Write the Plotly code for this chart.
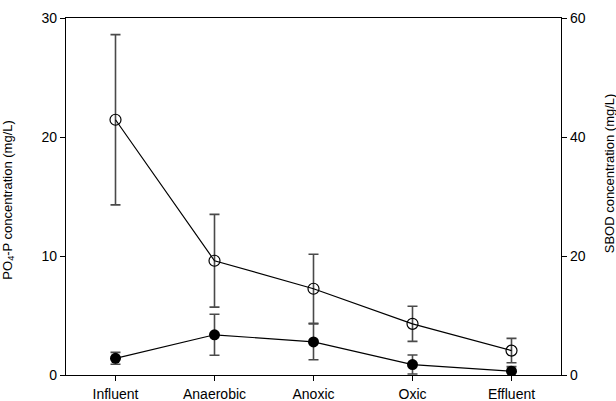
import plotly.graph_objects as go

categories = ["Influent", "Anaerobic", "Anoxic", "Oxic", "Effluent"]
po4_mean = [1.40, 3.38, 2.78, 0.88, 0.32]
po4_err = [0.50, 1.72, 1.50, 0.80, 0.38]
sbod_mean = [42.9, 19.2, 14.5, 8.6, 4.1]
sbod_err = [14.3, 7.8, 5.8, 2.95, 2.05]

xpos = list(range(len(categories)))
font = "Liberation Sans, Arial, sans-serif"

fig = go.Figure()
fig.add_trace(go.Scatter(
    x=xpos, y=sbod_mean, yaxis="y2", mode="lines+markers",
    line=dict(color="black", width=1.2),
    marker=dict(symbol="circle-open", size=11, color="black", line=dict(width=1.2)),
    error_y=dict(type="data", array=sbod_err, color="#4a4a4a", thickness=1.6, width=5),
    showlegend=False,
))
fig.add_trace(go.Scatter(
    x=xpos, y=po4_mean, mode="lines+markers",
    line=dict(color="black", width=1.2),
    marker=dict(symbol="circle", size=11, color="black"),
    error_y=dict(type="data", array=po4_err, color="#4a4a4a", thickness=1.6, width=5),
    showlegend=False,
))

axis_common = dict(
    showline=True, linecolor="black", linewidth=1.2,
    ticks="outside", ticklen=5, tickcolor="black", tickwidth=1.2,
    showgrid=False, zeroline=False, automargin=False,
    tickfont=dict(size=14),
)

fig.update_layout(
    width=616, height=401,
    margin=dict(l=66, r=55, t=18, b=26, autoexpand=False),
    paper_bgcolor="white", plot_bgcolor="white",
    font=dict(family=font, size=14, color="black"),
    xaxis=dict(range=[-0.5, 4.5], tickvals=xpos, ticktext=categories, mirror=True,
               ticklabelstandoff=1, **axis_common),
    yaxis=dict(range=[0, 30], tickvals=[0, 10, 20, 30], **axis_common),
    yaxis2=dict(range=[0, 60], tickvals=[0, 20, 40, 60], overlaying="y", side="right", **axis_common),
    annotations=[
        dict(text="PO<sub>4</sub>-P concentration (mg/L)", textangle=-90,
             xref="paper", yref="paper", x=-0.118, y=0.49, xanchor="center", yanchor="middle",
             showarrow=False, font=dict(size=13)),
        dict(text="SBOD concentration (mg/L)", textangle=-90,
             xref="paper", yref="paper", x=1.0, xshift=48, y=0.565, xanchor="center", yanchor="middle",
             showarrow=False, font=dict(size=13)),
    ],
)

fig.write_html(
    "out.html",
    config={"displayModeBar": False},
    post_script="document.body.style.margin='0';document.body.style.overflow='hidden';",
)
